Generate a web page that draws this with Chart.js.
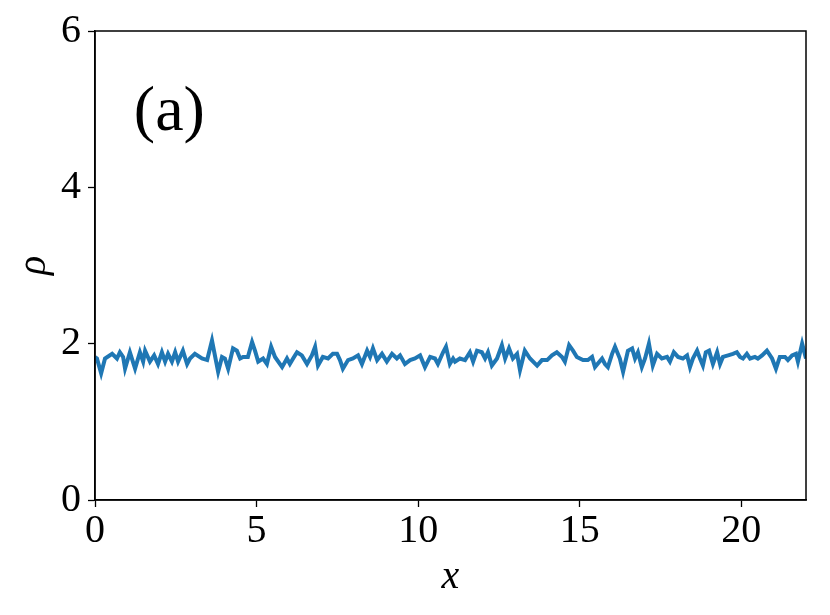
<!DOCTYPE html>
<html>
<head>
<meta charset="utf-8">
<script src="https://cdn.jsdelivr.net/npm/chart.js@4"></script>
<style>
  body { margin: 0; background: #fff; }
  #wrap { width: 830px; height: 615px; }
</style>
</head>
<body>
<div id="wrap"><canvas id="rhoChart" width="830" height="615"></canvas></div>
<script>
// density profile
const xs = [0.00, 0.06, 0.19, 0.31, 0.53, 0.68, 0.77, 0.87, 0.93, 1.08, 1.24, 1.39, 1.49, 1.55, 1.70, 1.83, 1.95, 2.07, 2.17, 2.26, 2.38, 2.48, 2.57, 2.72, 2.85, 2.94, 3.09, 3.31, 3.47, 3.62,
  3.81, 3.93, 4.02, 4.12, 4.27, 4.39, 4.49, 4.58, 4.73, 4.86, 4.95, 5.05, 5.20, 5.32, 5.45, 5.57, 5.79, 5.94, 6.03, 6.13, 6.25, 6.40, 6.56, 6.71, 6.81, 6.90, 7.05, 7.21, 7.36,
  7.49, 7.58, 7.67, 7.83, 7.98, 8.14, 8.26, 8.42, 8.51, 8.60, 8.73, 8.88, 9.03, 9.19, 9.34, 9.44, 9.59, 9.75, 9.90, 10.06, 10.21, 10.37, 10.52, 10.61, 10.77, 10.86, 10.98, 11.08,
  11.14, 11.29, 11.45, 11.60, 11.70, 11.82, 11.97, 12.07, 12.16, 12.28, 12.44, 12.59, 12.69, 12.81, 12.93, 13.06, 13.15, 13.30, 13.46, 13.68, 13.83, 13.99, 14.14, 14.29, 14.45, 14.54, 14.67, 14.79,
  14.91, 15.10, 15.25, 15.38, 15.47, 15.69, 15.78, 15.87, 16.00, 16.09, 16.24, 16.34, 16.49, 16.62, 16.71, 16.80, 16.92, 17.02, 17.14, 17.26, 17.39, 17.54, 17.70, 17.79, 17.91, 18.04, 18.19, 18.32, 18.41, 18.50,
  18.63, 18.72, 18.81, 18.90, 19.00, 19.12, 19.25, 19.34, 19.43, 19.59, 19.74, 19.86, 19.96, 20.05, 20.17, 20.27, 20.42, 20.51, 20.64, 20.79, 20.95, 21.07, 21.19, 21.35, 21.44, 21.57, 21.69, 21.75, 21.88, 22.00];
const rho = [1.83, 1.81, 1.62, 1.81, 1.87, 1.81, 1.89, 1.83, 1.68, 1.89, 1.68, 1.89, 1.77, 1.91, 1.77, 1.85, 1.74, 1.89, 1.77, 1.87, 1.77, 1.89, 1.77, 1.91, 1.74, 1.81, 1.87, 1.81, 1.79, 2.04,
  1.64, 1.83, 1.81, 1.68, 1.94, 1.91, 1.81, 1.83, 1.83, 2.02, 1.91, 1.77, 1.81, 1.74, 1.96, 1.83, 1.70, 1.81, 1.74, 1.81, 1.89, 1.85, 1.74, 1.85, 1.96, 1.72, 1.83, 1.81, 1.87,
  1.87, 1.79, 1.68, 1.79, 1.81, 1.85, 1.74, 1.91, 1.83, 1.94, 1.79, 1.87, 1.77, 1.87, 1.81, 1.85, 1.74, 1.79, 1.81, 1.85, 1.70, 1.83, 1.81, 1.74, 1.89, 1.96, 1.74, 1.81,
  1.77, 1.81, 1.79, 1.89, 1.77, 1.91, 1.89, 1.81, 1.89, 1.72, 1.81, 1.98, 1.81, 1.94, 1.81, 1.87, 1.66, 1.91, 1.81, 1.72, 1.79, 1.79, 1.85, 1.89, 1.83, 1.77, 1.98, 1.91,
  1.83, 1.79, 1.79, 1.83, 1.70, 1.81, 1.74, 1.70, 1.87, 1.96, 1.81, 1.64, 1.91, 1.94, 1.81, 1.89, 1.70, 1.81, 2.00, 1.72, 1.87, 1.81, 1.83, 1.77, 1.89, 1.83, 1.81, 1.85, 1.70, 1.81,
  1.91, 1.81, 1.72, 1.89, 1.91, 1.74, 1.89, 1.74, 1.83, 1.85, 1.87, 1.89, 1.83, 1.81, 1.87, 1.81, 1.83, 1.81, 1.85, 1.91, 1.81, 1.68, 1.83, 1.83, 1.79, 1.85, 1.87, 1.77, 2.00, 1.81];

const xTicks = [0, 5, 10, 15, 20];
const yTicks = [0, 2, 4, 6];
const panelLabel = '(a)';

const serif = '"Liberation Serif", "DejaVu Serif", serif';

// box round the plot + panel label
const framePlugin = {
    id: 'frame',
    afterDraw(chart) {
        const ctx = chart.ctx;
        const a = chart.chartArea;
        ctx.save();
        ctx.strokeStyle = '#000';
        ctx.lineWidth = 1.5;
        ctx.strokeRect(a.left, a.top, a.right - a.left, a.bottom - a.top);
        ctx.fillStyle = '#000';
        ctx.font = '64px ' + serif;
        ctx.textAlign = 'center';
        ctx.textBaseline = 'middle';
        ctx.fillText(panelLabel, chart.scales.x.getPixelForValue(2.3), chart.scales.y.getPixelForValue(4.95));
        ctx.restore();
    }
};

const ctx = document.getElementById('rhoChart').getContext('2d');
new Chart(ctx, {
    type: 'line',
    data: {
        datasets: [{
            data: xs.map((x, i) => ({ x: x, y: rho[i] })),
            borderColor: '#1f77b4',
            borderWidth: 4,
            pointRadius: 0,
            tension: 0,
            fill: false
        }]
    },
    options: {
        responsive: false,
        animation: false,
        layout: { padding: { left: 6, top: 30, right: 24, bottom: 10 } },
        plugins: { legend: { display: false }, tooltip: { enabled: false } },
        scales: {
            x: {
                type: 'linear',
                min: 0,
                max: 22,
                afterBuildTicks: s => { s.ticks = xTicks.map(v => ({ value: v })); },
                afterFit: s => { s.height = 105; },
                grid: { display: true, drawOnChartArea: false, drawTicks: true, tickLength: 7, color: '#000', tickWidth: 1.3 },
                border: { display: true, color: '#000', width: 1.5 },
                ticks: { color: '#000', font: { family: serif, size: 40 }, padding: 0, maxRotation: 0 },
                title: { display: true, text: 'x', color: '#000', font: { family: serif, size: 40, style: 'italic' }, padding: { top: 0 } }
            },
            y: {
                min: 0,
                max: 6,
                afterBuildTicks: s => { s.ticks = yTicks.map(v => ({ value: v })); },
                afterFit: s => { s.width = 89; },
                grid: { display: true, drawOnChartArea: false, drawTicks: true, tickLength: 7, color: '#000', tickWidth: 1.3 },
                border: { display: true, color: '#000', width: 1.5 },
                ticks: { color: '#000', font: { family: serif, size: 40 }, padding: 7 },
                title: { display: true, text: 'ρ', color: '#000', font: { family: serif, size: 40, style: 'italic' }, padding: { bottom: 0 } }
            }
        }
    },
    plugins: [framePlugin]
});
</script>
</body>
</html>
